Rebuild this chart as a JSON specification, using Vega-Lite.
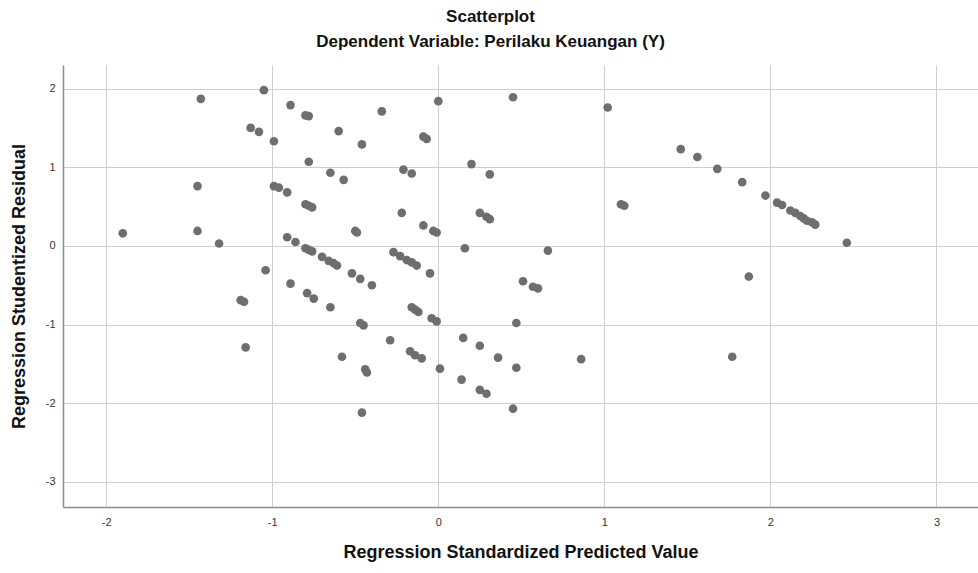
{
  "$schema": "https://vega.github.io/schema/vega-lite/v6.json",
  "autosize": {"type": "none"},
  "padding": {"left": 63, "top": 65, "right": 0, "bottom": 66},
  "width": 915,
  "height": 442,
  "background": "white",
  "title": {
    "text": "Scatterplot",
    "subtitle": "Dependent Variable: Perilaku Keuangan (Y)",
    "anchor": "middle",
    "dx": -30,
    "font": "Liberation Sans",
    "fontSize": 17,
    "fontWeight": "bold",
    "color": "#111111",
    "subtitleFont": "Liberation Sans",
    "subtitleFontSize": 17,
    "subtitleFontWeight": "bold",
    "subtitleColor": "#111111",
    "subtitlePadding": 8,
    "offset": 14
  },
  "config": {
    "view": {"stroke": null},
    "axis": {
      "gridColor": "#cfcfcf",
      "gridWidth": 1,
      "domainColor": "#8c8c8c",
      "domainWidth": 1.5,
      "ticks": false,
      "labelFont": "Liberation Sans",
      "labelFontSize": 11,
      "labelColor": "#333333",
      "titleFont": "Liberation Sans",
      "titleFontSize": 18,
      "titleFontWeight": "bold",
      "titleColor": "#111111"
    }
  },
  "data": {
    "values": [
      {"x": -1.90, "y": 0.16}, {"x": -1.43, "y": 1.87}, {"x": -1.45, "y": 0.76}, {"x": -1.45, "y": 0.19},
      {"x": -1.32, "y": 0.03}, {"x": -1.05, "y": 1.98}, {"x": -1.13, "y": 1.50}, {"x": -1.08, "y": 1.45},
      {"x": -0.99, "y": 1.33}, {"x": -0.89, "y": 1.79}, {"x": -0.80, "y": 1.66}, {"x": -0.78, "y": 1.65},
      {"x": -0.78, "y": 1.07}, {"x": -0.65, "y": 0.93}, {"x": -0.99, "y": 0.76}, {"x": -0.96, "y": 0.74},
      {"x": -0.91, "y": 0.68}, {"x": -0.80, "y": 0.53}, {"x": -0.78, "y": 0.51}, {"x": -0.76, "y": 0.49},
      {"x": -0.91, "y": 0.11}, {"x": -0.86, "y": 0.05}, {"x": -0.80, "y": -0.03}, {"x": -0.78, "y": -0.05},
      {"x": -0.76, "y": -0.07}, {"x": -0.70, "y": -0.14}, {"x": -0.66, "y": -0.19}, {"x": -0.63, "y": -0.22},
      {"x": -0.61, "y": -0.25}, {"x": -1.04, "y": -0.31}, {"x": -0.89, "y": -0.48}, {"x": -0.79, "y": -0.60},
      {"x": -0.75, "y": -0.67}, {"x": -0.65, "y": -0.78}, {"x": -1.19, "y": -0.69}, {"x": -1.17, "y": -0.71},
      {"x": -1.16, "y": -1.29}, {"x": -0.34, "y": 1.71}, {"x": -0.60, "y": 1.46}, {"x": -0.46, "y": 1.29},
      {"x": 0.00, "y": 1.84}, {"x": -0.09, "y": 1.39}, {"x": -0.07, "y": 1.36}, {"x": 0.45, "y": 1.89},
      {"x": 1.02, "y": 1.76}, {"x": -0.57, "y": 0.84}, {"x": -0.21, "y": 0.97}, {"x": -0.16, "y": 0.92},
      {"x": 0.20, "y": 1.04}, {"x": 0.31, "y": 0.91}, {"x": -0.22, "y": 0.42}, {"x": -0.50, "y": 0.19},
      {"x": -0.49, "y": 0.17}, {"x": -0.09, "y": 0.26}, {"x": -0.03, "y": 0.19}, {"x": -0.01, "y": 0.17},
      {"x": 0.25, "y": 0.42}, {"x": 0.29, "y": 0.37}, {"x": 0.31, "y": 0.34}, {"x": 1.10, "y": 0.53},
      {"x": 1.12, "y": 0.51}, {"x": -0.27, "y": -0.08}, {"x": -0.23, "y": -0.13}, {"x": -0.19, "y": -0.18},
      {"x": -0.16, "y": -0.21}, {"x": -0.13, "y": -0.25}, {"x": -0.05, "y": -0.35}, {"x": 0.16, "y": -0.03},
      {"x": 0.66, "y": -0.06}, {"x": -0.52, "y": -0.35}, {"x": -0.47, "y": -0.42}, {"x": -0.40, "y": -0.50},
      {"x": 0.51, "y": -0.45}, {"x": 0.57, "y": -0.52}, {"x": 0.60, "y": -0.54}, {"x": -0.47, "y": -0.98},
      {"x": -0.45, "y": -1.01}, {"x": -0.16, "y": -0.78}, {"x": -0.14, "y": -0.81}, {"x": -0.12, "y": -0.84},
      {"x": -0.04, "y": -0.92}, {"x": -0.01, "y": -0.96}, {"x": 0.47, "y": -0.98}, {"x": -0.29, "y": -1.20},
      {"x": -0.58, "y": -1.41}, {"x": -0.17, "y": -1.34}, {"x": -0.14, "y": -1.39}, {"x": -0.10, "y": -1.43},
      {"x": -0.44, "y": -1.57}, {"x": -0.43, "y": -1.61}, {"x": 0.01, "y": -1.56}, {"x": 0.15, "y": -1.17},
      {"x": 0.25, "y": -1.27}, {"x": 0.36, "y": -1.42}, {"x": 0.47, "y": -1.55}, {"x": 0.86, "y": -1.44},
      {"x": 0.14, "y": -1.70}, {"x": 0.25, "y": -1.83}, {"x": 0.29, "y": -1.88}, {"x": 0.45, "y": -2.07},
      {"x": -0.46, "y": -2.12}, {"x": 1.46, "y": 1.23}, {"x": 1.56, "y": 1.13}, {"x": 1.68, "y": 0.98},
      {"x": 1.83, "y": 0.81}, {"x": 1.97, "y": 0.64}, {"x": 2.04, "y": 0.55}, {"x": 2.07, "y": 0.52},
      {"x": 2.12, "y": 0.45}, {"x": 2.15, "y": 0.42}, {"x": 2.18, "y": 0.38}, {"x": 2.20, "y": 0.35},
      {"x": 2.22, "y": 0.32}, {"x": 2.25, "y": 0.30}, {"x": 2.27, "y": 0.27}, {"x": 2.46, "y": 0.04},
      {"x": 1.87, "y": -0.39}, {"x": 1.77, "y": -1.41}
    ]
  },
  "mark": {"type": "circle", "size": 75, "color": "#6e6e6e", "opacity": 1},
  "encoding": {
    "x": {
      "field": "x",
      "type": "quantitative",
      "scale": {"domain": [-2.26, 3.25], "nice": false, "zero": false},
      "axis": {
        "title": "Regression Standardized Predicted Value",
        "values": [-2, -1, 0, 1, 2, 3],
        "labelExpr": "'' + datum.value",
        "labelPadding": 9,
        "titlePadding": 16,
        "domain": true,
        "grid": true
      }
    },
    "y": {
      "field": "y",
      "type": "quantitative",
      "scale": {"domain": [-3.32, 2.30], "nice": false, "zero": false},
      "axis": {
        "title": "Regression Studentized Residual",
        "values": [-3, -2, -1, 0, 1, 2],
        "labelExpr": "'' + datum.value",
        "labelPadding": 8,
        "titlePadding": 17,
        "domain": true,
        "grid": true
      }
    }
  }
}
